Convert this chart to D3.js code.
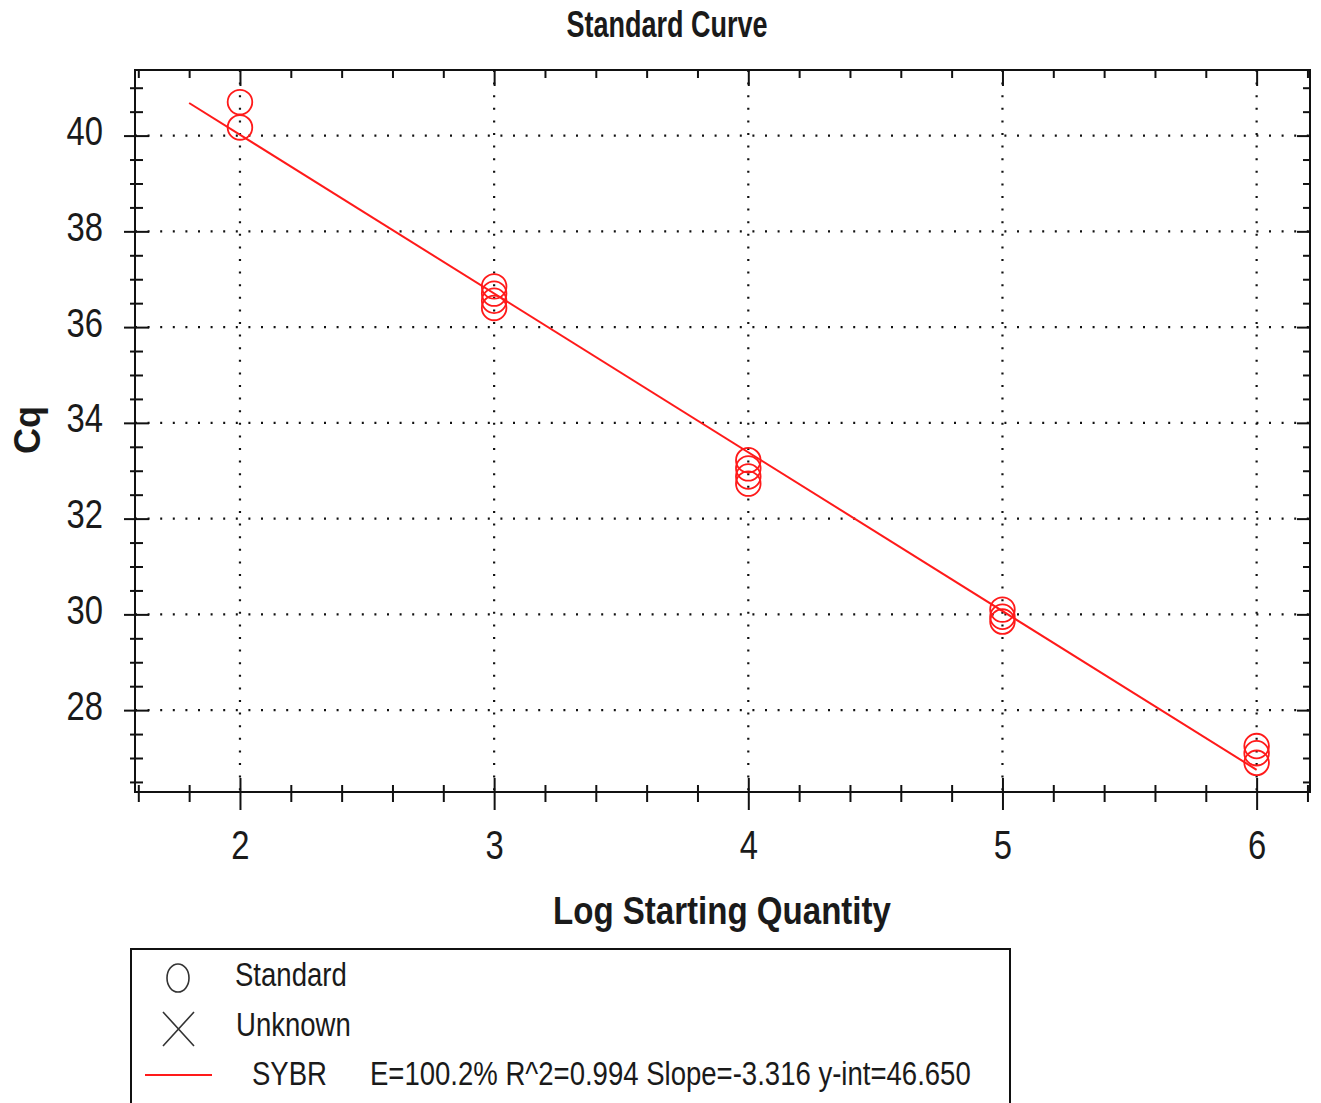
<!DOCTYPE html>
<html>
<head>
<meta charset="utf-8">
<script src="https://cdn.jsdelivr.net/npm/d3@7"></script>
<style>
  body { margin: 0; background: #fff; }
  svg text { font-family: "Liberation Sans", Arial, sans-serif; fill: #1a1a1a; }
</style>
</head>
<body>
<svg id="chart"></svg>
<script>
// standard curve replicates (log starting quantity vs Cq)
const logQty = [2, 2, 3, 3, 3, 3, 4, 4, 4, 4, 5, 5, 5, 6, 6, 6];
const cqValues = [40.70, 40.17, 36.85, 36.70, 36.55, 36.40, 33.22, 33.05, 32.88, 32.73, 30.10, 29.95, 29.85, 27.25, 27.10, 26.90];

// regression reported in the legend
const fitSlope = -3.316;
const fitIntercept = 46.650;
const fitRange = [1.8, 6];

const xTicks = [2, 3, 4, 5, 6];
const yTicks = [28, 30, 32, 34, 36, 38, 40];
const legendLabels = ["Standard", "Unknown", "SYBR"];
const fitLabel = "E=100.2% R^2=0.994 Slope=-3.316 y-int=46.650";

const config = {
  width: 1321, height: 1103,
  left: 135, right: 1310, top: 70, bottom: 792
};

const svg = d3.select('#chart')
  .attr('width', config.width)
  .attr('height', config.height);

const xScale = d3.scaleLinear().domain([1.587, 6.21]).range([config.left, config.right]);
const yScale = d3.scaleLinear().domain([26.29, 41.37]).range([config.bottom, config.top]);

// condensed text helper (the source font is narrow)
function squeeze(sel, sx) {
  sel.each(function() {
    const t = d3.select(this);
    const x = +t.attr('x') || 0;
    t.attr('x', x / sx).attr('transform', `scale(${sx},1)`);
  });
}

// dotted grid
const grid = svg.append('g');
grid.selectAll('line.v').data(xTicks).join('line')
  .attr('x1', d => xScale(d)).attr('x2', d => xScale(d))
  .attr('y1', config.top).attr('y2', config.bottom)
  .attr('stroke', '#111').attr('stroke-width', 2.2).attr('stroke-dasharray', '2,10.6');
grid.selectAll('line.h').data(yTicks).join('line')
  .attr('y1', d => yScale(d)).attr('y2', d => yScale(d))
  .attr('x1', config.left).attr('x2', config.right)
  .attr('stroke', '#111').attr('stroke-width', 2.2).attr('stroke-dasharray', '2,10.6');

const minorX = d3.range(1.6, 6.21, 0.2).map(v => +v.toFixed(1)).filter(v => !xTicks.includes(v));
const minorY = d3.range(26.5, 41.3, 0.5).filter(v => !yTicks.includes(v));

function styleAxis(g) {
  g.select('.domain').remove();
  g.selectAll('.tick line').attr('stroke', '#111').attr('stroke-width', 2);
}

// left axis
const yAxisG = svg.append('g').attr('transform', `translate(${config.left},0)`)
  .call(d3.axisLeft(yScale).tickValues(yTicks).tickSize(11).tickPadding(21))
  .call(styleAxis);
yAxisG.selectAll('.tick line').attr('x2', -11).attr('x1', 14);
yAxisG.selectAll('.tick text').attr('font-size', 41).attr('dy', '0.22em').call(squeeze, 0.8);
svg.append('g').attr('transform', `translate(${config.left},0)`)
  .call(d3.axisLeft(yScale).tickValues(minorY).tickSize(5).tickFormat(''))
  .call(styleAxis)
  .selectAll('.tick line').attr('x1', 8);

// right axis (inward ticks)
svg.append('g').attr('transform', `translate(${config.right},0)`)
  .call(d3.axisLeft(yScale).tickValues(yTicks).tickSize(13).tickFormat(''))
  .call(styleAxis);
svg.append('g').attr('transform', `translate(${config.right},0)`)
  .call(d3.axisLeft(yScale).tickValues(minorY).tickSize(7).tickFormat(''))
  .call(styleAxis);

// bottom axis
const xAxisG = svg.append('g').attr('transform', `translate(0,${config.bottom})`)
  .call(d3.axisBottom(xScale).tickValues(xTicks).tickSize(18).tickPadding(20).tickFormat(d3.format('d')))
  .call(styleAxis);
xAxisG.selectAll('.tick line').attr('y1', -14);
xAxisG.selectAll('.tick text').attr('font-size', 41).call(squeeze, 0.8);
svg.append('g').attr('transform', `translate(0,${config.bottom})`)
  .call(d3.axisBottom(xScale).tickValues(minorX).tickSize(10).tickFormat(''))
  .call(styleAxis)
  .selectAll('.tick line').attr('y1', -7);

// top axis (inward ticks)
svg.append('g').attr('transform', `translate(0,${config.top})`)
  .call(d3.axisTop(xScale).tickValues(xTicks).tickSize(16).tickFormat(''))
  .call(styleAxis)
  .selectAll('.tick line').attr('y2', 16);
svg.append('g').attr('transform', `translate(0,${config.top})`)
  .call(d3.axisTop(xScale).tickValues(minorX).tickSize(8).tickFormat(''))
  .call(styleAxis)
  .selectAll('.tick line').attr('y2', 8);

// frame
svg.append('rect')
  .attr('x', config.left).attr('y', config.top)
  .attr('width', config.right - config.left).attr('height', config.bottom - config.top)
  .attr('fill', 'none').attr('stroke', '#111').attr('stroke-width', 2);

// fit line
const fitLine = d3.line().x(d => xScale(d)).y(d => yScale(fitSlope * d + fitIntercept));
svg.append('path')
  .datum(fitRange)
  .attr('d', fitLine)
  .attr('fill', 'none').attr('stroke', '#ff1a1a').attr('stroke-width', 2);

// points
svg.append('g').selectAll('circle')
  .data(logQty)
  .join('circle')
    .attr('cx', d => xScale(d))
    .attr('cy', (d, i) => yScale(cqValues[i]))
    .attr('r', 12.3)
    .attr('fill', 'none')
    .attr('stroke', '#ff1a1a')
    .attr('stroke-width', 1.8);

// titles
svg.append('text').attr('x', 667).attr('y', 37)
  .attr('text-anchor', 'middle').attr('font-size', 37).attr('font-weight', 'bold')
  .text('Standard Curve').call(squeeze, 0.73);
svg.append('text').attr('x', 722).attr('y', 924)
  .attr('text-anchor', 'middle').attr('font-size', 38).attr('font-weight', 'bold')
  .text('Log Starting Quantity').call(squeeze, 0.87);
svg.append('text')
  .attr('transform', 'translate(40,430) rotate(-90)')
  .attr('text-anchor', 'middle').attr('font-size', 36).attr('font-weight', 'bold')
  .text('Cq');

// legend
const legend = svg.append('g');
legend.append('rect')
  .attr('x', 131).attr('y', 949).attr('width', 879).attr('height', 200)
  .attr('fill', '#fff').attr('stroke', '#111').attr('stroke-width', 2);
legend.append('ellipse')
  .attr('cx', 178).attr('cy', 978).attr('rx', 11).attr('ry', 14)
  .attr('fill', 'none').attr('stroke', '#333').attr('stroke-width', 1.6);
legend.append('path')
  .attr('d', 'M163,1012L194,1046M194,1012L163,1046')
  .attr('stroke', '#333').attr('stroke-width', 1.6);
legend.append('line')
  .attr('x1', 145).attr('x2', 212).attr('y1', 1075).attr('y2', 1075)
  .attr('stroke', '#ff1a1a').attr('stroke-width', 2);

const legendRows = [
  { label: legendLabels[0], x: 235, y: 986 },
  { label: legendLabels[1], x: 236, y: 1036 },
  { label: legendLabels[2], x: 252, y: 1085 },
  { label: fitLabel, x: 370, y: 1085 }
];
legend.selectAll('text.lab').data(legendRows).join('text')
  .attr('class', 'lab')
  .attr('x', d => d.x).attr('y', d => d.y)
  .attr('font-size', 33)
  .text(d => d.label)
  .call(squeeze, 0.835);
</script>
</body>
</html>
